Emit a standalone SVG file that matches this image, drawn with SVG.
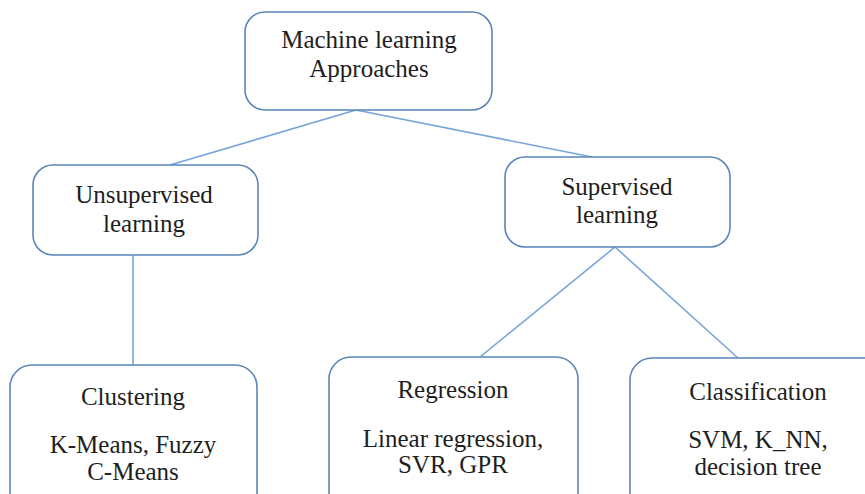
<svg xmlns="http://www.w3.org/2000/svg" width="865" height="494" viewBox="0 0 865 494">
<style>
.box{fill:#ffffff;stroke:#5a85b8;stroke-width:1.6}
.t{font-family:"Liberation Serif","Times New Roman",serif;font-size:25px;fill:#1e1e1e;text-anchor:middle}
.c{stroke:#76a5da;stroke-width:1.6;fill:none}
</style>
<rect width="865" height="494" fill="#ffffff"/>
<g id="connectors">
<line class="c" x1="356" y1="110" x2="170" y2="165"/>
<line class="c" x1="356" y1="110" x2="592" y2="157"/>
<line class="c" x1="133" y1="255" x2="133" y2="365"/>
<line class="c" x1="615" y1="247" x2="480" y2="357"/>
<line class="c" x1="615" y1="247" x2="738" y2="358"/>
</g>
<g id="n-root">
<rect class="box" x="245" y="12" width="247" height="98" rx="20"/>
<text class="t" x="369" y="48">Machine learning</text>
<text class="t" x="369" y="77">Approaches</text>
</g>
<g id="n-unsup">
<rect class="box" x="33" y="165" width="225" height="90" rx="20"/>
<text class="t" x="144" y="203">Unsupervised</text>
<text class="t" x="144" y="232">learning</text>
</g>
<g id="n-sup">
<rect class="box" x="505" y="157" width="225" height="90" rx="20"/>
<text class="t" x="617" y="195">Supervised</text>
<text class="t" x="617" y="223">learning</text>
</g>
<g id="n-clust">
<rect class="box" x="10" y="365" width="247" height="160" rx="22"/>
<text class="t" x="133" y="405">Clustering</text>
<text class="t" x="133" y="453">K-Means, Fuzzy</text>
<text class="t" x="133" y="480">C-Means</text>
</g>
<g id="n-reg">
<rect class="box" x="329" y="357" width="249" height="160" rx="22"/>
<text class="t" x="453" y="398">Regression</text>
<text class="t" x="453" y="447">Linear regression,</text>
<text class="t" x="453" y="473">SVR, GPR</text>
</g>
<g id="n-class">
<rect class="box" x="630" y="358" width="256" height="160" rx="22"/>
<text class="t" x="758" y="400">Classification</text>
<text class="t" x="758" y="448">SVM, K_NN,</text>
<text class="t" x="758" y="475">decision tree</text>
</g>
</svg>
